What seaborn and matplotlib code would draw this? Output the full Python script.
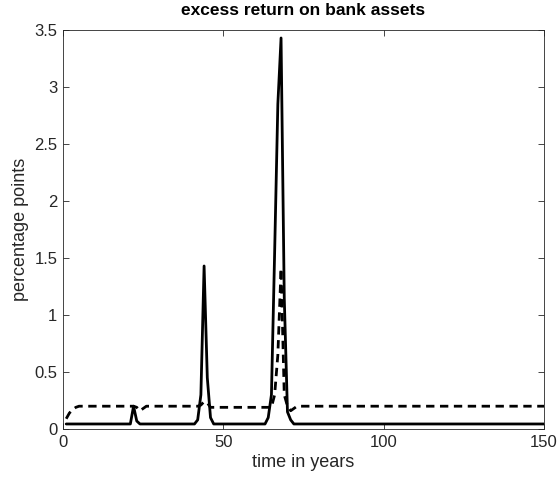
import matplotlib
matplotlib.use("Agg")
import matplotlib.pyplot as plt
import seaborn as sns
import pandas as pd

# data
solid_x = [1, 21, 22, 23, 24, 41, 42, 43, 44, 45, 46, 47,
           63, 64, 65, 66, 67, 68, 69, 70, 71, 72, 150]
solid_y = [0.044, 0.044, 0.2, 0.07, 0.044, 0.044, 0.08, 0.3, 1.43, 0.45, 0.1, 0.044,
           0.044, 0.1, 0.3, 1.55, 2.85, 3.43, 1.15, 0.15, 0.08, 0.044, 0.044]
dashed_x = [1, 2, 3, 4, 5, 22, 23, 24, 25, 26, 42, 43, 44, 45, 46, 47,
            65, 66, 67, 68, 69, 70, 71, 72, 73, 150]
dashed_y = [0.09, 0.14, 0.17, 0.19, 0.2, 0.2, 0.19, 0.16, 0.18, 0.2,
            0.2, 0.21, 0.24, 0.23, 0.19, 0.19,
            0.19, 0.3, 0.65, 1.41, 0.3, 0.2, 0.16, 0.18, 0.2, 0.2]
x_ticks = [0, 50, 100, 150]
y_ticks = [0, 0.5, 1, 1.5, 2, 2.5, 3, 3.5]
y_tick_labels = ["0", "0.5", "1", "1.5", "2", "2.5", "3", "3.5"]

sns.set_theme(style="white")
plt.rcParams['font.family'] = ['Liberation Sans', 'DejaVu Sans']

df_solid = pd.DataFrame({"t": solid_x, "v": solid_y})
df_dashed = pd.DataFrame({"t": dashed_x, "v": dashed_y})

fig = plt.figure(figsize=(5.57, 4.87), dpi=100)
ax = fig.add_axes([63/557, 1-429/487, (544-63)/557, (429-30)/487])

sns.lineplot(data=df_solid, x="t", y="v", ax=ax, color="black", linewidth=2.0,
             estimator=None)
sns.lineplot(data=df_dashed, x="t", y="v", ax=ax, color="black", linewidth=2.0,
             estimator=None, linestyle=(0, (3, 2)))

ax.set_xlim(0, 150)
ax.set_ylim(0, 3.5)
ax.set_xticks(x_ticks)
ax.set_xticklabels([str(t) for t in x_ticks])
ax.set_yticks(y_ticks)
ax.set_yticklabels(y_tick_labels)

gray = (0.15, 0.15, 0.15)
for s in ax.spines.values():
    s.set_visible(True)
    s.set_color(gray)
    s.set_linewidth(0.6)
ax.tick_params(direction="in", length=4, width=0.6, colors=gray,
               labelsize=12, top=True, right=True, bottom=True, left=True,
               pad=4)
ax.set_xlabel("time in years", fontsize=13, color=gray, labelpad=3)
ax.set_ylabel("percentage points", fontsize=13, color=gray, labelpad=4)
ax.set_title("excess return on bank assets", fontsize=12.5, fontweight="bold",
             color="black", pad=11)
ax.grid(False)

fig.savefig("out.png", dpi=100)
